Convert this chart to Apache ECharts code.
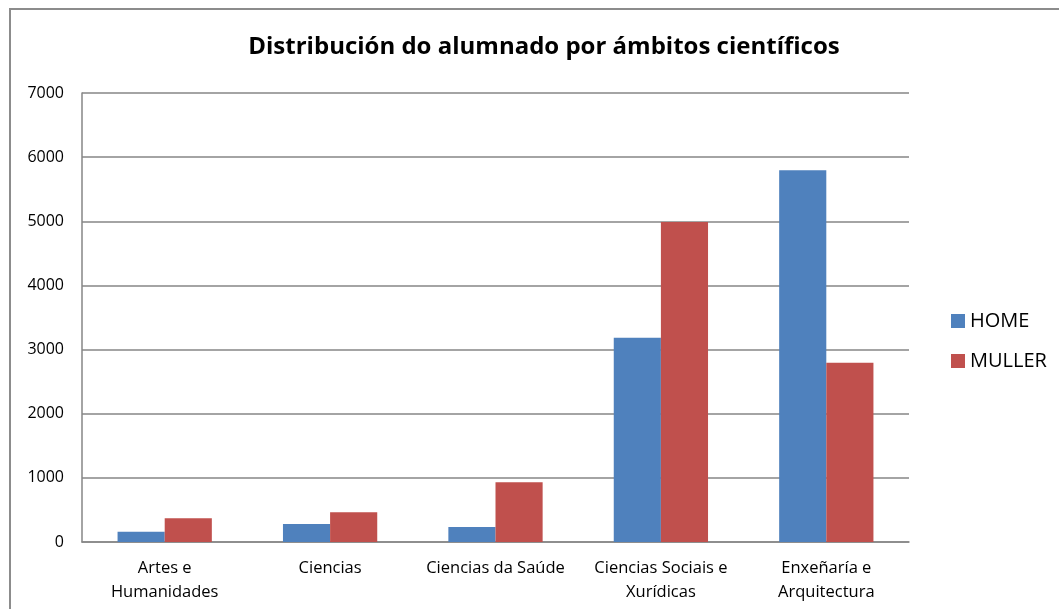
<!DOCTYPE html>
<html lang="gl" style="height: 100%">
<head>
  <meta charset="utf-8">
</head>
<body style="height: 100%; margin: 0; background: #fff">
  <div id="container" style="height: 100%"></div>
  <script type="text/javascript" src="https://fastly.jsdelivr.net/npm/echarts@6/dist/echarts.min.js"></script>
  <script type="text/javascript">
    var categories = ['Artes e\nHumanidades', 'Ciencias', 'Ciencias da Saúde', 'Ciencias Sociais e\nXurídicas', 'Enxeñaría e\nArquitectura'];
    var homeValues = [160, 280, 234, 3185, 5795];
    var mullerValues = [370, 463, 931, 4989, 2796];

    var font = '"Open Sans", "Noto Sans", sans-serif';
    var dom = document.getElementById('container');
    var myChart = echarts.init(dom, null, { renderer: 'canvas' });

    var option = {
      animation: false,
      textStyle: { fontFamily: font },
      title: {
        text: 'Distribución do alumnado por ámbitos científicos',
        left: 539,
        top: 30,
        textAlign: 'center',
        textStyle: { fontFamily: font, fontSize: 24, fontWeight: 'bold', color: '#000' }
      },
      graphic: [{
        type: 'rect',
        shape: { x: 10, y: 9, width: 1100, height: 700 },
        style: { fill: 'none', stroke: '#8c8c8c', lineWidth: 2 },
        silent: true
      }],
      legend: {
        orient: 'vertical',
        left: 946,
        top: 306,
        itemWidth: 14,
        itemHeight: 14,
        itemGap: 20,
        icon: 'rect',
        textStyle: { fontFamily: font, fontSize: 20, color: '#000' },
        data: ['HOME', 'MULLER']
      },
      grid: { left: 82, right: 150, top: 93, bottom: 67, containLabel: false },
      xAxis: {
        type: 'category',
        data: categories,
        axisLine: { lineStyle: { color: '#868686', width: 1.5 } },
        axisTick: { show: false },
        axisLabel: { color: '#000', fontSize: 16.5, lineHeight: 24, margin: 14, interval: 0 }
      },
      yAxis: {
        type: 'value',
        min: 0,
        max: 7000,
        interval: 1000,
        axisLine: { show: true, lineStyle: { color: '#868686', width: 1.5 } },
        axisTick: { show: false },
        axisLabel: { color: '#000', fontSize: 16, margin: 18, formatter: function (v) { return String(v); } },
        splitLine: { lineStyle: { color: '#868686', width: 1.5 } }
      },
      series: [
        {
          name: 'HOME',
          type: 'bar',
          data: homeValues,
          barGap: '0%',
          barCategoryGap: '43%',
          itemStyle: { color: '#4F81BD' }
        },
        {
          name: 'MULLER',
          type: 'bar',
          data: mullerValues,
          barGap: '0%',
          barCategoryGap: '43%',
          itemStyle: { color: '#C0504D' }
        }
      ]
    };

    myChart.setOption(option);
    window.addEventListener('resize', myChart.resize);
  </script>
</body>
</html>
